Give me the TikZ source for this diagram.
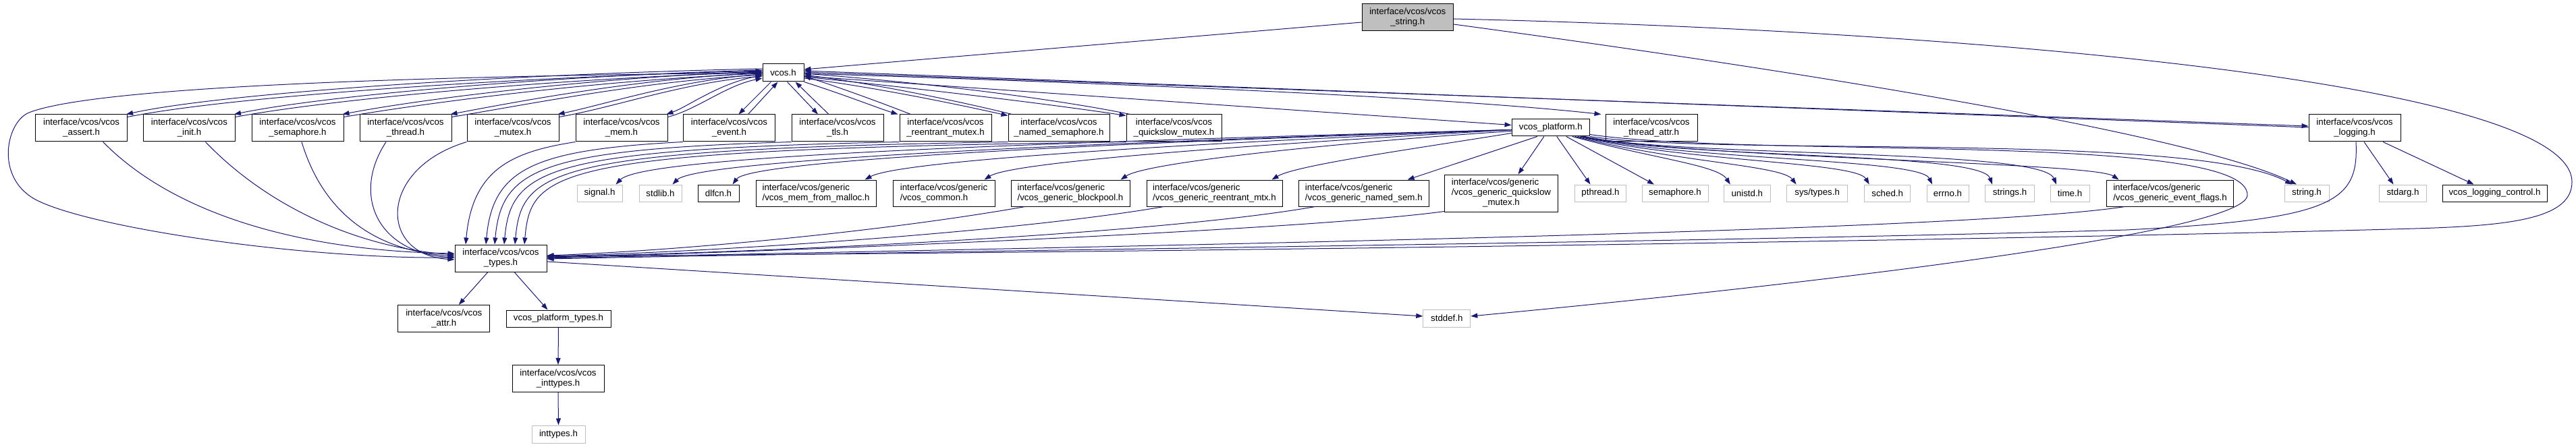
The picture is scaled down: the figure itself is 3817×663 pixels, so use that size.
\documentclass[tikz,border=0pt]{standalone}
\usepackage{fontspec}
\setmainfont{Liberation Sans}
\usetikzlibrary{arrows.meta}
\definecolor{mblue}{HTML}{191970}
\definecolor{gborder}{HTML}{BFBFBF}
\newcommand{\gtwo}[2]{\begin{tabular}{@{}l@{}}#1\\#2\end{tabular}}
\tikzset{
  box/.style={draw=black, line width=1pt, fill=white, inner sep=0pt, align=center,
              font=\fontsize{13.3}{15}\selectfont},
  sys/.style={box, draw=gborder},
  rootbox/.style={box, fill=gborder},
  e/.style={draw=mblue, line width=1pt, -{Triangle[length=10pt,width=7pt]}}
}
\begin{document}
\begin{tikzpicture}[x=1pt,y=-1pt]
\useasboundingbox (0,0) rectangle (3817,663);
% ---------- nodes ----------
\node[rootbox, minimum width=135.5pt, minimum height=40pt] (str) at (2085.8,26) {interface/vcos/vcos\\\_string.h};
\node[box, minimum width=61pt, minimum height=26pt] (vcos) at (1160.5,108) {vcos.h};
\begin{scope}[every node/.append style={minimum width=136pt, minimum height=40pt}]
\node[box] (assert) at (120.6,190) {interface/vcos/vcos\\\_assert.h};
\node[box] (init) at (280.5,190) {interface/vcos/vcos\\\_init.h};
\node[box] (sema) at (441,190) {interface/vcos/vcos\\\_semaphore.h};
\node[box] (thread) at (601,190) {interface/vcos/vcos\\\_thread.h};
\node[box] (mutex) at (760,190) {interface/vcos/vcos\\\_mutex.h};
\node[box] (mem) at (921,190) {interface/vcos/vcos\\\_mem.h};
\node[box] (event) at (1080.5,190) {interface/vcos/vcos\\\_event.h};
\node[box] (tls) at (1241,190) {interface/vcos/vcos\\\_tls.h};
\node[box] (reent) at (1401,190) {interface/vcos/vcos\\\_reentrant\_mutex.h};
\node[box, minimum width=150pt] (named) at (1569,190) {interface/vcos/vcos\\\_named\_semaphore.h};
\node[box, minimum width=141pt] (qs) at (1739.5,190) {interface/vcos/vcos\\\_quickslow\_mutex.h};
\node[box] (tattr) at (2447,190) {interface/vcos/vcos\\\_thread\_attr.h};
\node[box] (log) at (3489,190) {interface/vcos/vcos\\\_logging.h};
\node[box] (types) at (742,383) {interface/vcos/vcos\\\_types.h};
\node[box] (attr) at (657.8,472.5) {interface/vcos/vcos\\\_attr.h};
\node[box] (vint) at (827,561.5) {interface/vcos/vcos\\\_inttypes.h};
\end{scope}
\node[box, minimum width=115.5pt, minimum height=25pt] (plat) at (2297.8,189.5) {vcos\_platform.h};
% row 2
\begin{scope}[every node/.append style={minimum height=25pt}]
\node[sys, minimum width=67pt] (signal) at (888.5,286.5) {signal.h};
\node[sys, minimum width=63pt] (stdlib) at (978.5,286.5) {stdlib.h};
\node[box, minimum width=61pt] (dlfcn) at (1064.5,286.5) {dlfcn.h};
\node[sys, minimum width=76pt] (pthread) at (2371.5,286.5) {pthread.h};
\node[sys, minimum width=98pt] (semah) at (2482,286.5) {semaphore.h};
\node[sys, minimum width=68.5pt] (unistd) at (2588.8,286.5) {unistd.h};
\node[sys, minimum width=90pt] (systypes) at (2692.6,286.5) {sys/types.h};
\node[sys, minimum width=68pt] (sched) at (2796.7,286.5) {sched.h};
\node[sys, minimum width=62pt] (errno) at (2886,286.5) {errno.h};
\node[sys, minimum width=73pt] (strings) at (2978,286.5) {strings.h};
\node[sys, minimum width=58pt] (time) at (3067,286.5) {time.h};
\node[sys, minimum width=66pt] (stringh) at (3418,286.5) {string.h};
\node[sys, minimum width=70pt] (stdarg) at (3560.5,286.5) {stdarg.h};
\node[box, minimum width=155pt] (logctl) at (3696.5,286.5) {vcos\_logging\_control.h};
\node[box, minimum width=155pt] (ptypes) at (827.5,472.5) {vcos\_platform\_types.h};
\node[sys, minimum width=70pt, minimum height=26pt] (stddef) at (2143.8,472) {stddef.h};
\node[sys, minimum width=79pt, minimum height=26pt] (inttypes) at (827.5,644) {inttypes.h};
\end{scope}
\begin{scope}[every node/.append style={minimum height=39pt}]
\node[box, minimum width=178pt] (malloc) at (1209,286.5) {\gtwo{interface/vcos/generic}{/vcos\_mem\_from\_malloc.h}};
\node[box, minimum width=151pt] (common) at (1398.5,286.5) {\gtwo{interface/vcos/generic}{/vcos\_common.h}};
\node[box, minimum width=176pt] (bpool) at (1586,286.5) {\gtwo{interface/vcos/generic}{/vcos\_generic\_blockpool.h}};
\node[box, minimum width=201pt] (greent) at (1799.5,286.5) {\gtwo{interface/vcos/generic}{/vcos\_generic\_reentrant\_mtx.h}};
\node[box, minimum width=192.5pt] (gnamed) at (2020.8,286.5) {\gtwo{interface/vcos/generic}{/vcos\_generic\_named\_sem.h}};
\node[box, minimum width=188pt] (evflags) at (3215.5,286.5) {\gtwo{interface/vcos/generic}{/vcos\_generic\_event\_flags.h}};
\end{scope}
\node[box, minimum width=168pt, minimum height=55pt] (gqs) at (2224.5,286.5)
  {\begin{tabular}{@{}l@{}}interface/vcos/generic\\/vcos\_generic\_quickslow\\\multicolumn{1}{@{}c@{}}{\_mutex.h}\end{tabular}};

% ---------- edges ----------
% root
\draw[e] ([yshift=-7pt]str.west) -- ([yshift=5pt]vcos.east);
\draw[e] ([yshift=-2pt]str.east) .. controls (2900,45) and (3811,120) .. (3811,270)
   .. controls (3811,330) and (3700,336) .. (3543,340)
   .. controls (2800,360) and (1500,376) .. ([yshift=3pt]types.east);
\draw[e] ([yshift=-10pt]str.east) .. controls (2700,110) and (3250,200) .. ([xshift=-15pt]stringh.north);
% vcos.h -> types (big left loop)
\draw[e] (vcos.west) .. controls (700,112) and (150,125) .. (43,167)
   .. controls (8,181) and (-10,270) .. (61,300)
   .. controls (150,340) and (450,384) .. ([yshift=1pt]types.west);
% vcos.h <-> top row (left part)
\draw[e] ([yshift=6pt]vcos.west) .. controls (750,110) and (330,138) .. ([xshift=-2pt]assert.north east);
\draw[e] ([yshift=-4pt]assert.north east) .. controls (342,143) and (750,115) .. ([yshift=3pt]vcos.west);
\draw[e] ([yshift=4pt]vcos.west) .. controls (820,112) and (480,142) .. ([xshift=-2pt]init.north east);
\draw[e] ([yshift=-4pt]init.north east) .. controls (492,147) and (820,117) .. ([yshift=1pt]vcos.west);
\draw[e] ([yshift=2pt]vcos.west) .. controls (890,114) and (630,146) .. ([xshift=-2pt]sema.north east);
\draw[e] ([yshift=-4pt]sema.north east) .. controls (642,151) and (890,119) .. ([yshift=-1pt]vcos.west);
\draw[e] ([yshift=0pt]vcos.west) .. controls (950,116) and (770,150) .. ([xshift=-2pt]thread.north east);
\draw[e] ([yshift=-4pt]thread.north east) .. controls (782,155) and (950,121) .. ([yshift=-3pt]vcos.west);
\draw[e] ([yshift=-2pt]vcos.west) .. controls (1010,118) and (900,154) .. ([xshift=-2pt]mutex.north east);
\draw[e] ([yshift=-4pt]mutex.north east) .. controls (912,159) and (1010,123) .. ([yshift=-5pt]vcos.west);
\draw[e] ([yshift=-4pt]vcos.west) .. controls (1070,120) and (1020,158) .. ([xshift=-2pt]mem.north east);
\draw[e] ([yshift=-4pt]mem.north east) .. controls (1032,163) and (1075,127) .. ([yshift=-8pt]vcos.west);
% vcos.h <-> event, tls
\draw[e] ([xshift=-18pt]vcos.south) -- ([xshift=14pt]event.north);
\draw[e] ([xshift=28pt]event.north) -- ([xshift=-8pt]vcos.south);
\draw[e] ([xshift=6pt]vcos.south) -- ([xshift=-29pt]tls.north);
\draw[e] ([xshift=-13pt]tls.north) -- ([xshift=18pt]vcos.south);
% vcos.h <-> reentrant, named, quickslow
\draw[e] (vcos.south east) .. controls (1250,140) and (1300,160) .. ([xshift=-2pt]reent.north west);
\draw[e] ([xshift=17pt]reent.north west) .. controls (1300,150) and (1230,125) .. ([yshift=-5pt]vcos.east);
\draw[e] ([yshift=-8pt]vcos.east) .. controls (1300,130) and (1420,155) .. ([yshift=-2pt]named.north west);
\draw[e] ([xshift=6pt]named.north west) .. controls (1420,150) and (1300,125) .. ([yshift=-3pt]vcos.east);
\draw[e] ([yshift=-6pt]vcos.east) .. controls (1400,135) and (1580,158) .. ([yshift=-2pt]qs.north west);
\draw[e] ([xshift=6pt]qs.north west) .. controls (1580,150) and (1400,125) .. ([yshift=-1pt]vcos.east);
% vcos.h -> platform, thread_attr, logging
\draw[e] ([yshift=-5pt]vcos.east) -- ([yshift=4pt]plat.west);
\draw[e] ([yshift=-1pt]vcos.east) .. controls (1700,125) and (2150,145) .. ([xshift=-6pt]tattr.north west);
\draw[e] ([yshift=1pt]vcos.east) -- ([yshift=3pt]log.west);
\draw[e] ([yshift=1pt]log.west) -- ([yshift=3pt]vcos.east);
% top row -> types
\draw[e] ([xshift=32pt]assert.south) .. controls (260,320) and (450,372) .. ([yshift=7pt]types.west);
\draw[e] ([xshift=24pt]init.south) .. controls (390,300) and (520,366) .. ([yshift=5pt]types.west);
\draw[e] ([xshift=6pt]sema.south) .. controls (480,320) and (560,372) .. ([yshift=3pt]types.west);
\draw[e] ([xshift=-29pt]thread.south) .. controls (520,290) and (560,375) .. ([yshift=1pt]types.west);
\draw[e] (mutex.south west) .. controls (560,250) and (560,378) .. ([yshift=-2pt]types.west);
\draw[e] (mem.south west) .. controls (760,225) and (700,250) .. ([xshift=-52pt]types.north);
\draw[e] (event.south west) .. controls (790,222) and (730,250) .. ([xshift=-22pt]types.north);
\draw[e] (tls.south west) .. controls (800,222) and (743,250) .. ([xshift=-9pt]types.north);
\draw[e] (reent.south west) .. controls (810,222) and (757,250) .. ([xshift=5pt]types.north);
\draw[e] (named.south west) .. controls (820,222) and (773,250) .. ([xshift=21pt]types.north);
\draw[e] (qs.south west) .. controls (820,222) and (787,250) .. ([xshift=35pt]types.north);
% platform -> row 2 (left)
\draw[e] ([yshift=-3pt]plat.west) .. controls (1400,215) and (950,235) .. ([xshift=-10pt]signal.north east);
\draw[e] ([yshift=-3pt]plat.west) .. controls (1500,215) and (1030,240) .. ([xshift=-14pt]stdlib.north east);
\draw[e] ([yshift=-3pt]plat.west) .. controls (1550,215) and (1110,240) .. ([xshift=-10pt]dlfcn.north east);
\draw[e] ([yshift=-3pt]plat.west) .. controls (1700,215) and (1330,240) .. ([xshift=-17pt]malloc.north east);
\draw[e] ([yshift=-3pt]plat.west) .. controls (1850,215) and (1500,240) .. ([xshift=-16pt]common.north east);
\draw[e] ([yshift=-5pt]plat.west) .. controls (2000,210) and (1700,240) .. ([xshift=-14pt]bpool.north east);
\draw[e] ([yshift=-8pt]plat.west) .. controls (2100,220) and (1920,245) .. ([xshift=-16pt]greent.north east);
\draw[e] ([xshift=-20pt]plat.south) -- ([xshift=-32pt]gnamed.north east);
\draw[e] ([xshift=-10pt]plat.south) -- ([xshift=25pt]gqs.north);
% platform -> row 2 (right)
\draw[e] ([xshift=9pt]plat.south) -- ([xshift=-15pt]pthread.north);
\draw[e] ([xshift=23pt]plat.south) -- ([xshift=-31pt]semah.north);
\draw[e] ([xshift=32pt]plat.south) .. controls (2450,235) and (2545,245) .. ([xshift=-25pt]unistd.north);
\draw[e] ([xshift=36pt]plat.south) .. controls (2480,240) and (2640,245) .. ([xshift=-31pt]systypes.north);
\draw[e] ([xshift=40pt]plat.south) .. controls (2500,240) and (2750,240) .. ([xshift=-27pt]sched.north);
\draw[e] ([xshift=44pt]plat.south) .. controls (2500,238) and (2845,235) .. ([xshift=-23pt]errno.north);
\draw[e] ([xshift=46pt]plat.south) .. controls (2500,236) and (2935,225) .. ([xshift=-26pt]strings.north);
\draw[e] ([xshift=48pt]plat.south) .. controls (2500,234) and (3025,220) .. ([xshift=-20pt]time.north);
\draw[e] ([xshift=50pt]plat.south) .. controls (2500,235) and (3100,240) .. ([xshift=-76pt]evflags.north);
\draw[e] (plat.south east) .. controls (2550,232) and (3250,195) .. ([xshift=-22pt]stringh.north);
\draw[e] ([yshift=3pt]plat.south east) .. controls (2600,235) and (3335,195) .. (3330,290)
   .. controls (3325,345) and (2700,420) .. ([yshift=3pt]stddef.east);
% generic -> types
\draw[e] ([xshift=-67pt]bpool.south) .. controls (1300,345) and (1000,372) .. ([yshift=4pt]types.east);
\draw[e] ([xshift=-75pt]greent.south) .. controls (1500,345) and (1050,374) .. ([yshift=3pt]types.east);
\draw[e] ([xshift=-72pt]gnamed.south) .. controls (1700,350) and (1100,375) .. ([yshift=2pt]types.east);
\draw[e] ([yshift=1pt]gqs.south west) .. controls (1950,340) and (1200,372) .. ([yshift=1pt]types.east);
\draw[e] ([xshift=-67pt]evflags.south) .. controls (2900,345) and (1600,366) .. (types.east);
% logging
\draw[e] ([xshift=2pt]log.south) .. controls (3495,300) and (3460,325) .. (3151,341)
   .. controls (2500,360) and (1500,370) .. ([yshift=-1pt]types.east);
\draw[e] ([xshift=14pt]log.south) -- ([xshift=-14pt]stdarg.north);
\draw[e] ([xshift=42pt]log.south) -- ([xshift=-31pt]logctl.north);
% types subtree
\draw[e] ([xshift=-19pt]types.south) -- ([xshift=22pt]attr.north);
\draw[e] ([xshift=20pt]types.south) -- ([xshift=-16pt]ptypes.north);
\draw[e] (ptypes.south) -- (vint.north);
\draw[e] (vint.south) -- (inttypes.north);
\draw[e] ([yshift=-5pt]types.east) -- ([yshift=3pt]stddef.west);
\end{tikzpicture}
\end{document}
